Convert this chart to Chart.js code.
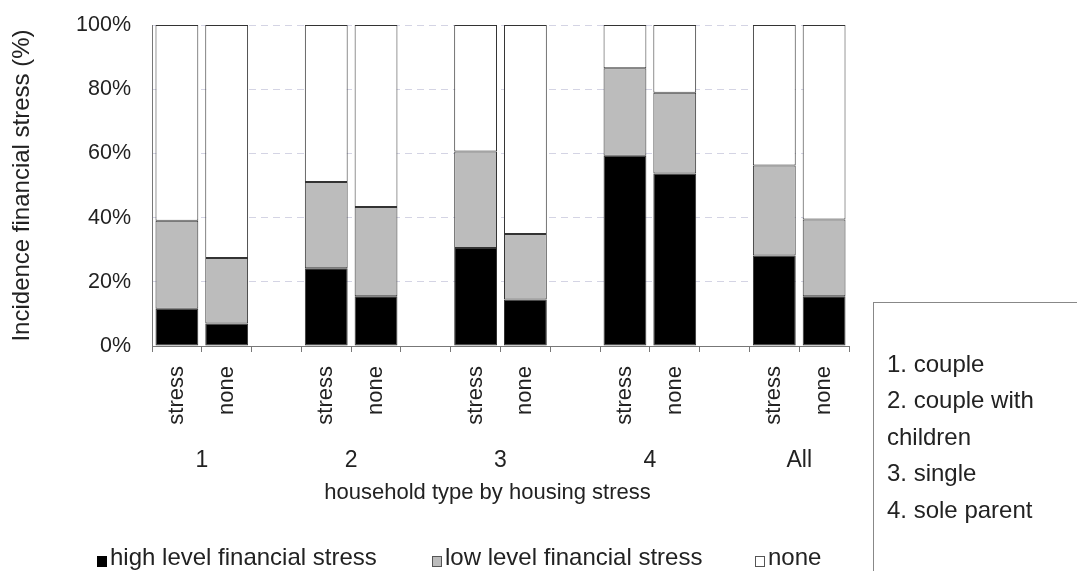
<!DOCTYPE html>
<html>
<head>
<meta charset="utf-8">
<script src="https://cdn.jsdelivr.net/npm/chart.js@4.4.1/dist/chart.umd.min.js"></script>
<style>
    html, body { margin: 0; padding: 0; background: #fff; }
    #wrap { width: 1077px; height: 571px; }
</style>
</head>
<body>
<div id="wrap"><canvas id="myChart"></canvas></div>
<script>
// bars: household type x housing stress, empty slots keep the groups apart
const CATEGORIES = ['stress', 'none', '', 'stress', 'none', '', 'stress', 'none', '', 'stress', 'none', '', 'stress', 'none']
const GROUPS = ['1', '2', '3', '4', 'All']
const HIGH = [11.6, 7.0, null, 24.2, 15.5, null, 30.5, 14.5, null, 59.3, 53.7, null, 28.2, 15.5]
const LOW = [27.4, 20.4, null, 26.9, 27.8, null, 30.1, 20.4, null, 27.2, 25.2, null, 28.0, 23.9]
const NONE = [61.0, 72.6, null, 48.9, 56.7, null, 39.4, 65.1, null, 13.5, 21.1, null, 43.8, 60.6]
const Y_TICKS = [0, 20, 40, 60, 80, 100]
const HOUSEHOLD_TYPES = ['1. couple', '2. couple with', 'children', '3. single', '4. sole parent']

const FONT = '"Liberation Sans", Arial, sans-serif'
Chart.defaults.font.family = FONT
Chart.defaults.color = '#222'

// group numbers, axis title, legend and the key box
const extras = {
    id: 'extras',
    afterDraw(chart) {
        const c = chart.ctx
        const xs = chart.scales.x
        const area = chart.chartArea
        c.save()
        c.fillStyle = '#222'
        c.textBaseline = 'middle'
        c.textAlign = 'center'
        c.font = '23px ' + FONT
        GROUPS.forEach((g, i) => {
            const x = (xs.getPixelForValue(i * 3) + xs.getPixelForValue(i * 3 + 1)) / 2
            c.fillText(g, x, 461)
        })
        c.font = '22px ' + FONT
        c.fillText('household type by housing stress', (area.left + area.right) / 2 - 13, 493)

        // legend
        const legendX = [97, 432, 755]
        c.textAlign = 'left'
        c.font = '24px ' + FONT
        chart.data.datasets.forEach((ds, i) => {
            const x = legendX[i]
            c.fillStyle = ds.backgroundColor
            c.fillRect(x, 556, 10, 11)
            c.strokeStyle = i == 0 ? '#000' : '#555'
            c.lineWidth = 1
            c.strokeRect(x + 0.5, 556.5, 9, 10)
            c.fillStyle = '#222'
            c.fillText(ds.label, x + 13, 558)
        })

        // key box on the right
        c.strokeStyle = '#888'
        c.strokeRect(873.5, 302.5, 260, 300)
        c.font = '24px ' + FONT
        HOUSEHOLD_TYPES.forEach((t, i) => {
            c.fillText(t, 887, 365 + i * 36.5)
        })
        c.restore()
    }
}

var ctx = document.getElementById('myChart')
var myChart = new Chart(ctx, {
    type: 'bar',
    data: {
        labels: CATEGORIES,
        datasets: [
            { label: 'high level financial stress', data: HIGH, backgroundColor: '#000000' },
            { label: 'low level financial stress', data: LOW, backgroundColor: '#bcbcbc' },
            { label: 'none', data: NONE, backgroundColor: '#ffffff' }
        ]
    },
    options: {
        responsive: true,
        maintainAspectRatio: false,
        animation: false,
        layout: { padding: { top: 25, right: 228, left: 0, bottom: 0 } },
        datasets: {
            bar: {
                categoryPercentage: 1,
                barPercentage: 0.86,
                borderColor: '#333',
                borderWidth: 1,
                borderSkipped: false
            }
        },
        plugins: {
            legend: { display: false },
            tooltip: { enabled: false }
        },
        scales: {
            x: {
                stacked: true,
                offset: true,
                grid: {
                    display: true,
                    drawOnChartArea: false,
                    drawTicks: true,
                    tickLength: 6,
                    color: '#777',
                    offset: true
                },
                border: { color: '#777' },
                ticks: {
                    minRotation: 90,
                    maxRotation: 90,
                    autoSkip: false,
                    padding: 14,
                    font: { size: 22 }
                },
                afterFit: scale => { scale.height = 225 }
            },
            y: {
                stacked: true,
                min: 0,
                max: 100,
                afterBuildTicks: scale => { scale.ticks = Y_TICKS.map(v => ({ value: v })) },
                grid: {
                    color: '#d4d4e4',
                    drawTicks: false
                },
                border: { color: '#777', dash: [7, 5] },
                ticks: {
                    padding: 21,
                    font: { size: 21.5 },
                    callback: v => v + '%'
                },
                title: {
                    display: true,
                    text: 'Incidence financial stress (%)',
                    font: { size: 24 },
                    padding: { top: 8, bottom: 0 }
                },
                afterFit: scale => {
                    scale.width = 152
                    // tick padding should not push the plot down
                    scale.paddingTop = 0
                    scale.paddingBottom = 0
                }
            }
        }
    },
    plugins: [extras]
})
</script>
</body>
</html>
